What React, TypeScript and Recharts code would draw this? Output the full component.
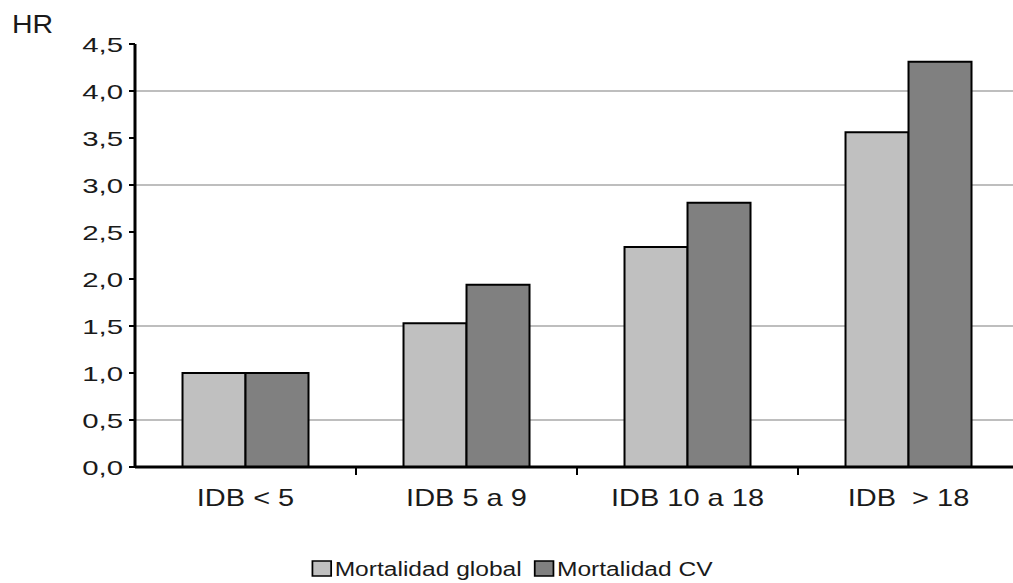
import React from "react";
import { BarChart, Bar, XAxis, YAxis, CartesianGrid } from "recharts";

const categories = ["IDB < 5", "IDB 5 a 9", "IDB 10 a 18", "IDB  > 18"];
const mortalidadGlobal = [1.0, 1.53, 2.34, 3.56];
const mortalidadCV = [1.0, 1.94, 2.81, 4.31];
const yTicks = [0, 0.5, 1, 1.5, 2, 2.5, 3, 3.5, 4, 4.5];
const gridValues = [0.5, 1.5, 3, 4];
const seriesNames = ["Mortalidad global", "Mortalidad CV"];

const data = categories.map((c, i) => ({
  cat: c,
  global: mortalidadGlobal[i],
  cv: mortalidadCV[i],
}));

const FONT = "'Liberation Sans', Arial, sans-serif";
const LIGHT = "#c0c0c0";
const DARK = "#808080";

const YTick = (props: any) => {
  const { x, y, payload } = props;
  const label = Number(payload.value).toFixed(1).replace(".", ",");
  return (
    <g transform={`translate(${x},${y})`}>
      <text
        transform="scale(1.4,1)"
        textAnchor="end"
        y={7.5}
        fontSize={21}
        fontFamily={FONT}
        fill="#1a1a1a"
      >
        {label}
      </text>
    </g>
  );
};

const XTick = (props: any) => {
  const { x, y, payload } = props;
  const half = payload && typeof payload.offset === "number" ? payload.offset : 110.5;
  return (
    <g>
      <line x1={x + half} x2={x + half} y1={y} y2={y + 8} stroke="#000" strokeWidth={2} />
      <g transform={`translate(${x},${y + 39})`}>
        <text
          transform="scale(1.26,1)"
          textAnchor="middle"
          fontSize={23}
          fontFamily={FONT}
          fill="#1a1a1a"
          style={{ whiteSpace: "pre" }}
        >
          {payload.value}
        </text>
      </g>
    </g>
  );
};

export default function App() {
  return (
    <div
      style={{
        position: "fixed",
        left: 0,
        top: 0,
        width: 1013,
        height: 583,
        overflow: "hidden",
        background: "#fff",
      }}
    >
      <BarChart
        width={1040}
        height={583}
        data={data}
        margin={{ top: 44, right: 21, bottom: 75, left: 0 }}
        barCategoryGap="21.5%"
        barGap={0}
      >
        <CartesianGrid
          vertical={false}
          stroke="#a8a8a8"
          strokeWidth={1.5}
          horizontalCoordinatesGenerator={(args: any) => {
            const { yAxis, offset } = args;
            if (yAxis && typeof yAxis.scale === "function") {
              return gridValues.map((v) => yAxis.scale(v));
            }
            return gridValues.map((v) => offset.top + offset.height * (1 - v / 4.5));
          }}
        />
        <XAxis
          dataKey="cat"
          height={41}
          interval={0}
          tickLine={false}
          tickSize={0}
          tickMargin={0}
          axisLine={{ stroke: "#000", strokeWidth: 3 }}
          tick={<XTick />}
        />
        <YAxis
          width={135}
          domain={[0, 4.5]}
          ticks={yTicks}
          interval={0}
          allowDataOverflow
          tickSize={6}
          tickMargin={6}
          tickLine={{ stroke: "#000", strokeWidth: 2 }}
          axisLine={{ stroke: "#000", strokeWidth: 3 }}
          tick={<YTick />}
        />
        <Bar dataKey="global" name={seriesNames[0]} fill={LIGHT} stroke="#000" strokeWidth={2} isAnimationActive={false} />
        <Bar dataKey="cv" name={seriesNames[1]} fill={DARK} stroke="#000" strokeWidth={2} isAnimationActive={false} />
      </BarChart>
      <svg
        width={1013}
        height={583}
        style={{ position: "absolute", left: 0, top: 0, pointerEvents: "none" }}
      >
        <g transform="translate(12,33)">
          <text transform="scale(1.14,1)" fontSize={25} fontFamily={FONT} fill="#1a1a1a">
            HR
          </text>
        </g>
        <g transform="translate(512.5,576) scale(1.17,1)">
          <rect x={-171} y={-15} width={16} height={15} fill={LIGHT} stroke="#000" strokeWidth={1.5} />
          <text x={-152} y={0} fontSize={21} fontFamily={FONT} fill="#1a1a1a">
            {seriesNames[0]}
          </text>
          <rect x={19} y={-15} width={16} height={15} fill={DARK} stroke="#000" strokeWidth={1.5} />
          <text x={38} y={0} fontSize={21} fontFamily={FONT} fill="#1a1a1a">
            {seriesNames[1]}
          </text>
        </g>
      </svg>
    </div>
  );
}
